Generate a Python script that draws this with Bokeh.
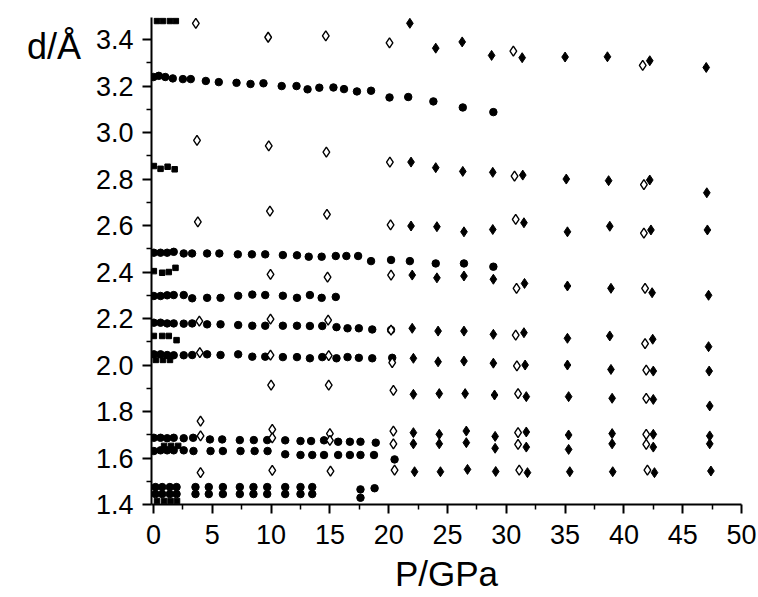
from bokeh.plotting import figure
from bokeh.models import Range1d, FixedTicker, PrintfTickFormatter
from bokeh.embed import file_html
from bokeh.resources import INLINE

# ---------------- data ----------------
x_ticks = [0, 5, 10, 15, 20, 25, 30, 35, 40, 45, 50]
x_minor = [2.5, 7.5, 12.5, 17.5, 22.5, 27.5, 32.5, 37.5, 42.5, 47.5]
y_ticks = [1.4, 1.6, 1.8, 2.0, 2.2, 2.4, 2.6, 2.8, 3.0, 3.2, 3.4]
y_minor = [1.5, 1.7, 1.9, 2.1, 2.3, 2.5, 2.7, 2.9, 3.1, 3.3]

# filled circles (one list per reflection row)
circ_p_324 = [0.0, 0.45, 1.0, 1.64, 2.5, 3.17, 4.45, 5.55, 7.06, 8.25, 9.35, 10.9, 12.16, 13.1, 14.1, 15.3, 16.2, 17.3, 18.5, 20.07, 21.66, 23.8, 26.3, 28.9]
circ_d_324 = [3.239, 3.244, 3.239, 3.233, 3.230, 3.230, 3.222, 3.217, 3.214, 3.209, 3.212, 3.200, 3.200, 3.186, 3.193, 3.194, 3.187, 3.177, 3.180, 3.151, 3.153, 3.134, 3.108, 3.088]
circ_p_248 = [0.03, 0.6, 1.16, 1.72, 2.57, 3.28, 4.56, 5.6, 7.17, 8.37, 9.5, 11.0, 12.2, 13.2, 14.3, 15.5, 16.4, 17.4, 18.5, 20.2, 21.8, 24.0, 26.4, 28.9]
circ_d_248 = [2.483, 2.483, 2.483, 2.487, 2.480, 2.480, 2.480, 2.480, 2.476, 2.476, 2.476, 2.473, 2.472, 2.466, 2.466, 2.469, 2.469, 2.469, 2.447, 2.452, 2.447, 2.437, 2.437, 2.423]
circ_p_230 = [0.03, 0.6, 1.16, 1.72, 2.57, 3.29, 4.56, 5.7, 7.2, 8.4, 9.5, 11.0, 12.2, 13.3, 14.3, 15.5]
circ_d_230 = [2.297, 2.297, 2.300, 2.301, 2.301, 2.287, 2.289, 2.289, 2.298, 2.303, 2.301, 2.298, 2.289, 2.301, 2.289, 2.293]
circ_p_218 = [0.03, 0.6, 1.16, 1.72, 2.57, 3.29, 4.56, 5.7, 7.2, 8.4, 9.5, 11.0, 12.2, 13.3, 14.35, 15.56, 16.5, 17.46, 18.6, 20.2]
circ_d_218 = [2.182, 2.182, 2.179, 2.179, 2.178, 2.179, 2.175, 2.175, 2.172, 2.169, 2.169, 2.169, 2.169, 2.168, 2.168, 2.163, 2.158, 2.158, 2.153, 2.151]
circ_p_204 = [0.03, 0.6, 1.16, 1.72, 2.57, 3.29, 4.56, 5.7, 7.2, 8.4, 9.5, 11.0, 12.2, 13.3, 14.35, 15.56, 16.5, 17.46, 18.6, 20.3]
circ_d_204 = [2.046, 2.046, 2.043, 2.042, 2.042, 2.043, 2.046, 2.043, 2.046, 2.036, 2.036, 2.034, 2.034, 2.029, 2.034, 2.029, 2.034, 2.031, 2.029, 2.031]
circ_p_168 = [0.03, 0.6, 1.16, 1.72, 2.57, 3.37, 4.8, 5.84, 7.34, 8.53, 9.67, 11.2, 12.5, 13.4, 14.5, 15.7, 16.7, 17.6, 18.9]
circ_d_168 = [1.687, 1.687, 1.685, 1.687, 1.685, 1.687, 1.680, 1.680, 1.677, 1.677, 1.677, 1.676, 1.673, 1.673, 1.676, 1.670, 1.670, 1.670, 1.666]
circ_p_162 = [0.03, 0.6, 1.16, 1.72, 2.57, 3.4, 4.85, 5.9, 7.4, 8.6, 9.7, 11.2, 12.5, 13.5, 14.5, 15.7, 16.7, 17.6, 18.75, 20.5]
circ_d_162 = [1.630, 1.633, 1.633, 1.633, 1.633, 1.630, 1.630, 1.630, 1.630, 1.630, 1.630, 1.616, 1.613, 1.613, 1.613, 1.613, 1.613, 1.613, 1.613, 1.594]
circ_p_147 = [0.17, 0.74, 1.39, 1.96, 3.57, 4.7, 5.9, 7.34, 8.5, 9.67, 11.2, 12.5, 13.5, 17.6, 18.8]
circ_d_147 = [1.475, 1.475, 1.475, 1.475, 1.475, 1.475, 1.475, 1.475, 1.475, 1.475, 1.475, 1.475, 1.475, 1.465, 1.470]
circ_p_144 = [0.17, 0.74, 1.39, 1.96, 3.57, 4.7, 5.9, 7.34, 8.5, 9.67, 11.2, 12.5, 13.5, 17.6]
circ_d_144 = [1.445, 1.445, 1.445, 1.445, 1.445, 1.445, 1.445, 1.445, 1.445, 1.445, 1.445, 1.445, 1.445, 1.429]

# filled squares (low-pressure phase)
sq_p = [0.3, 0.8, 1.4, 1.9,
        0.03, 0.6, 1.2, 1.8,
        0.03, 0.74, 1.3, 1.87,
        0.03, 0.74, 1.3, 1.96,
        0.2, 0.8, 1.4,
        0.9, 1.5, 2.1,
        0.3, 0.9, 1.45, 2.0]
sq_d = [3.48, 3.48, 3.48, 3.48,
        2.856, 2.844, 2.853, 2.842,
        2.404, 2.397, 2.400, 2.418,
        2.125, 2.125, 2.125, 2.107,
        2.022, 2.022, 2.022,
        1.652, 1.652, 1.652,
        1.415, 1.415, 1.415, 1.415]

# open diamonds
od_p = [3.6, 3.7, 3.77, 3.9, 3.94, 4.0, 4.0, 4.0,
        9.75, 9.8, 9.9, 9.95, 9.95, 9.95, 10.0, 10.1, 10.1, 10.1,
        14.65, 14.7, 14.75, 14.8, 14.85, 14.9, 14.9, 15.0, 15.0, 15.05,
        20.07, 20.1, 20.16, 20.2, 20.2, 20.3, 20.4, 20.4, 20.4, 20.5,
        30.6, 30.7, 30.8, 30.87, 30.8, 30.9, 31.0, 31.0, 31.0, 31.1,
        41.6, 41.7, 41.7, 41.8, 41.8, 41.9, 41.9, 41.9, 41.9, 42.0]
od_d = [3.47, 2.966, 2.616, 2.189, 2.053, 1.759, 1.695, 1.537,
        3.41, 2.943, 2.662, 2.39, 2.197, 2.043, 1.914, 1.723, 1.687, 1.547,
        3.416, 2.916, 2.648, 2.378, 2.193, 2.04, 1.914, 1.705, 1.676, 1.544,
        3.386, 2.873, 2.603, 2.387, 2.15, 2.01, 1.891, 1.716, 1.661, 1.548,
        3.35, 2.813, 2.627, 2.33, 2.129, 1.996, 1.877, 1.709, 1.659, 1.548,
        3.289, 2.776, 2.567, 2.33, 2.092, 1.978, 1.857, 1.702, 1.659, 1.548]

# filled diamonds (high-pressure phase)
fd_p = [21.8, 21.9, 21.9, 22.0, 22.0, 22.1, 22.1, 22.1, 22.1, 22.2,
        24.0, 24.0, 24.1, 24.1, 24.2, 24.2, 24.3, 24.3, 24.3, 24.4,
        26.25, 26.3, 26.4, 26.4, 26.4, 26.4, 26.5, 26.6, 26.6, 26.7,
        28.75, 28.85, 28.85, 28.9, 28.9, 28.9, 29.0, 29.05, 29.05, 29.1,
        31.35, 31.4, 31.5, 31.55, 31.5, 31.6, 31.7, 31.7, 31.7, 31.8,
        35.0, 35.1, 35.2, 35.2, 35.2, 35.2, 35.3, 35.3, 35.3, 35.4,
        38.6, 38.7, 38.8, 38.9, 38.8, 38.9, 39.0, 39.0, 39.0, 39.05,
        42.2, 42.2, 42.3, 42.4, 42.45, 42.5, 42.5, 42.5, 42.5, 42.6,
        47.0, 47.05, 47.1, 47.2, 47.2, 47.25, 47.3, 47.3, 47.3, 47.4]
fd_d = [3.47, 2.873, 2.598, 2.387, 2.158, 2.029, 1.874, 1.709, 1.661, 1.541,
        3.363, 2.849, 2.595, 2.375, 2.146, 2.014, 1.877, 1.702, 1.661, 1.541,
        3.39, 2.833, 2.573, 2.383, 2.146, 2.017, 1.877, 1.716, 1.666, 1.551,
        3.332, 2.829, 2.583, 2.369, 2.132, 2.008, 1.871, 1.693, 1.642, 1.542,
        3.322, 2.817, 2.612, 2.351, 2.139, 2.0, 1.864, 1.712, 1.647, 1.537,
        3.325, 2.80, 2.573, 2.34, 2.115, 2.0, 1.864, 1.699, 1.637, 1.541,
        3.326, 2.793, 2.597, 2.33, 2.125, 1.981, 1.857, 1.705, 1.661, 1.541,
        3.309, 2.796, 2.581, 2.311, 2.111, 1.974, 1.852, 1.702, 1.647, 1.537,
        3.28, 2.741, 2.581, 2.30, 2.079, 1.974, 1.824, 1.695, 1.661, 1.544]

x_label = "P/GPa"
y_label = "d/Å"

# ---------------- figure ----------------
FONT = "Liberation Sans"
p = figure(width=758, height=597, output_backend="svg", toolbar_location=None,
           title=None,
           x_range=Range1d(-0.17, 50.0), y_range=Range1d(1.4, 3.495),
           min_border_left=151, min_border_right=17,
           min_border_top=17, min_border_bottom=93)
p.outline_line_color = None
p.xgrid.visible = False
p.ygrid.visible = False
p.background_fill_color = "white"
p.border_fill_color = "white"

circ_p = (circ_p_324 + circ_p_248 + circ_p_230 + circ_p_218 + circ_p_204 +
          circ_p_168 + circ_p_162 + circ_p_147 + circ_p_144)
circ_d = (circ_d_324 + circ_d_248 + circ_d_230 + circ_d_218 + circ_d_204 +
          circ_d_168 + circ_d_162 + circ_d_147 + circ_d_144)

p.scatter(circ_p, circ_d, marker="circle", size=7.5, fill_color="black", line_color="black")
p.scatter(sq_p, sq_d, marker="square", size=5.5, fill_color="black", line_color="black")
p.scatter(fd_p, fd_d, marker="diamond", size=10, fill_color="black", line_color="black")
p.scatter(od_p, od_d, marker="diamond", size=10, fill_color="white", line_color="black",
          line_width=1.4)

for ax in (p.xaxis[0], p.yaxis[0]):
    ax.axis_line_width = 2
    ax.axis_line_color = "black"
    ax.major_tick_line_width = 2
    ax.minor_tick_line_width = 1.5
    ax.major_tick_in = 0
    ax.minor_tick_in = 0
    ax.major_tick_out = 9
    ax.minor_tick_out = 5
    ax.major_label_text_font = FONT
    ax.major_label_text_font_size = "27px"
    ax.major_label_text_color = "black"
    ax.axis_label_text_font = FONT
    ax.axis_label_text_font_style = "normal"
    ax.axis_label_text_color = "black"

xa = p.xaxis[0]
xa.ticker = FixedTicker(ticks=x_ticks, minor_ticks=x_minor)
xa.formatter = PrintfTickFormatter(format="%d")
xa.major_label_standoff = 11
xa.axis_label = x_label
xa.axis_label_text_font_size = "35px"
xa.axis_label_standoff = 7

ya = p.yaxis[0]
ya.ticker = FixedTicker(ticks=y_ticks, minor_ticks=y_minor)
ya.formatter = PrintfTickFormatter(format="%.1f")
ya.major_label_standoff = 9
# leading blank line pushes the horizontal label down from the frame top
ya.axis_label = "\n" + y_label
ya.axis_label_text_font_size = "36px"
ya.axis_label_text_line_height = 1.4
ya.axis_label_orientation = "horizontal"
ya.axis_label_align = "end"
ya.axis_label_standoff = 12

open("out.html", "w").write(file_html(p, INLINE))
